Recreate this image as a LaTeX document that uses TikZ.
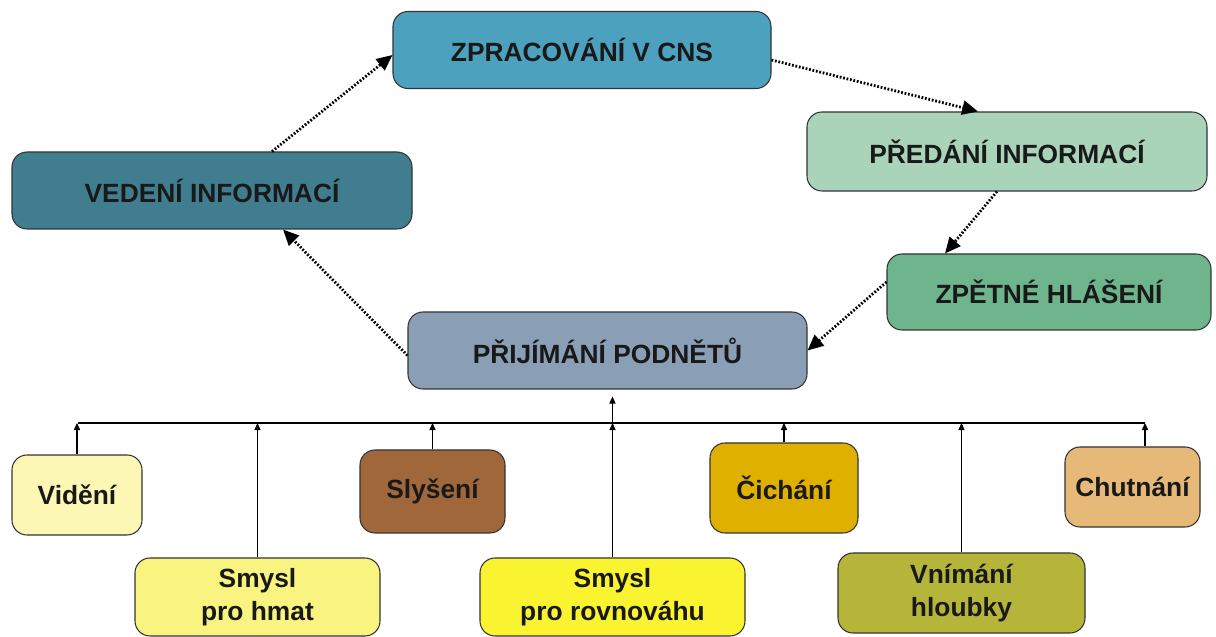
\documentclass[tikz,border=0pt]{standalone}
\usepackage{fontspec}
\setmainfont{Liberation Sans}
\usetikzlibrary{arrows.meta}
\definecolor{cnsblue}{RGB}{75,161,190}
\definecolor{predgreen}{RGB}{170,212,186}
\definecolor{zpetgreen}{RGB}{110,180,140}
\definecolor{prijgray}{RGB}{138,159,181}
\definecolor{vedteal}{RGB}{64,126,143}
\definecolor{vidyel}{RGB}{252,247,180}
\definecolor{hmatyel}{RGB}{249,243,128}
\definecolor{slybrown}{RGB}{160,104,58}
\definecolor{rovyel}{RGB}{250,243,48}
\definecolor{cichgold}{RGB}{224,176,0}
\definecolor{hloolive}{RGB}{181,181,58}
\definecolor{chuttan}{RGB}{230,185,120}
\begin{document}
\begin{tikzpicture}[
    box/.style={draw=black!80,line width=0.6pt,rounded corners=0.3cm,align=center,
        font=\fontsize{15}{18.5}\selectfont\bfseries,text=black!90,inner sep=0pt},
    flow/.style={-{Triangle[length=9pt,width=8pt]},line width=1.6pt,dash pattern=on 1pt off 1pt},
    branch/.style={-{Triangle[length=4pt,width=3.5pt]},line width=0.6pt}]
    \useasboundingbox (0,0) rectangle (24.32,-12.74);
    % cyklus
    \node[box,fill=cnsblue,minimum width=7.56cm,minimum height=1.54cm] (cns) at (11.64,-1.00) {ZPRACOVÁNÍ V CNS};
    \node[box,fill=predgreen,minimum width=8.0cm,minimum height=1.58cm] (predani) at (20.14,-3.03) {PŘEDÁNÍ INFORMACÍ};
    \node[box,fill=zpetgreen,minimum width=6.48cm,minimum height=1.52cm] (zpetne) at (20.98,-5.84) {ZPĚTNÉ HLÁŠENÍ};
    \node[box,fill=prijgray,minimum width=7.98cm,minimum height=1.54cm] (prijimani) at (12.15,-7.01) {PŘIJÍMÁNÍ PODNĚTŮ};
    \node[box,fill=vedteal,minimum width=8.0cm,minimum height=1.54cm] (vedeni) at (4.24,-3.81) {VEDENÍ INFORMACÍ};
    \draw[flow] ([xshift=1.2cm]vedeni.north) -- ([yshift=-0.1cm]cns.west);
    \draw[flow] ([yshift=-0.2cm]cns.east) -- ([xshift=-0.58cm]predani.north);
    \draw[flow] ([xshift=-0.2cm]predani.south) -- ([xshift=-2.08cm]zpetne.north);
    \draw[flow] ([yshift=0.2cm]zpetne.west) -- (prijimani.east);
    \draw[flow] ([yshift=-0.1cm]prijimani.west) -- ([xshift=1.42cm]vedeni.south);
    % smysly
    \node[box,fill=vidyel,minimum width=2.6cm,minimum height=1.6cm] (videni) at (1.54,-9.90) {Vidění};
    \node[box,fill=hmatyel,minimum width=4.9cm,minimum height=1.56cm] (hmat) at (5.15,-11.94) {Smysl\\pro hmat};
    \node[box,fill=slybrown,minimum width=2.9cm,minimum height=1.66cm] (slyseni) at (8.65,-9.83) {Slyšení};
    \node[box,fill=rovyel,minimum width=5.3cm,minimum height=1.56cm] (rovnovaha) at (12.25,-11.94) {Smysl\\pro rovnováhu};
    \node[box,fill=cichgold,minimum width=2.96cm,minimum height=1.8cm] (cichani) at (15.68,-9.76) {Čichání};
    \node[box,fill=hloolive,minimum width=4.94cm,minimum height=1.6cm] (hloubka) at (19.23,-11.86) {Vnímání\\hloubky};
    \node[box,fill=chuttan,minimum width=2.7cm,minimum height=1.6cm] (chutnani) at (22.65,-9.74) {Chutnání};
    \coordinate (busl) at (1.56,-8.46);
    \coordinate (busr) at (22.90,-8.46);
    \draw[line width=0.6pt] (busl) -- (busr);
    \foreach \n in {videni,hmat,slyseni,rovnovaha,cichani,hloubka}
        \draw[branch] (\n.north) -- (\n.north |- busl);
    \draw[branch] (busr |- chutnani.north) -- (busr);
    \draw[branch,shorten >=4pt] (rovnovaha.north |- busl) -- (rovnovaha.north |- prijimani.south);
\end{tikzpicture}
\end{document}
